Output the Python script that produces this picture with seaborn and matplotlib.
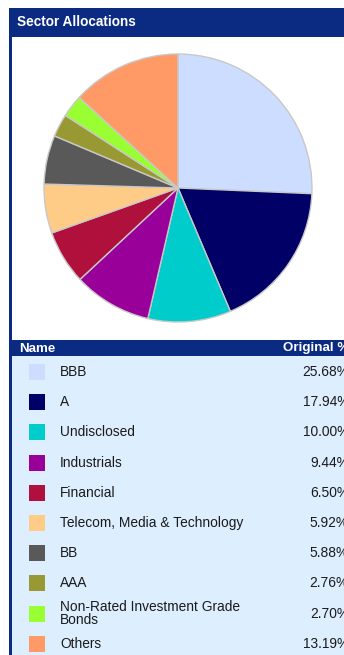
import matplotlib
matplotlib.use('Agg')
import matplotlib.pyplot as plt
from matplotlib.patches import Rectangle
import pandas as pd
import seaborn as sns

# data
names = ['BBB', 'A', 'Undisclosed', 'Industrials', 'Financial',
         'Telecom, Media & Technology', 'BB', 'AAA',
         'Non-Rated Investment Grade\nBonds', 'Others']
values = [25.68, 17.94, 10.00, 9.44, 6.50, 5.92, 5.88, 2.76, 2.70, 13.19]
value_labels = ['25.68%', '17.94%', '10.00%', '9.44%', '6.50%',
                '5.92%', '5.88%', '2.76%', '2.70%', '13.19%']
colors = ['#CCDDFF', '#000066', '#00CCCC', '#990099', '#B0103C',
          '#FFCC88', '#595959', '#999933', '#99FF33', '#FF9966']

sns.set_style('white')
plt.rcParams['font.family'] = ['Liberation Sans', 'DejaVu Sans']

W, H = 344, 655
NAVY = '#0B2B82'
fig = plt.figure(figsize=(W / 100, H / 100), dpi=100)

# background frame in pixel coordinates
bg = fig.add_axes([0, 0, 1, 1])
bg.set_xlim(0, W)
bg.set_ylim(H, 0)
bg.axis('off')
bg.add_patch(Rectangle((9, 7.5), W - 9, 29.5, color=NAVY, lw=0))
bg.add_patch(Rectangle((9, 7.5), 2.5, H, color=NAVY, lw=0))
bg.add_patch(Rectangle((9, 340), W - 9, 16, color=NAVY, lw=0))
bg.add_patch(Rectangle((11.5, 356), W - 11.5, H - 356, color='#DDEEFF', lw=0))
bg.text(17, 22.5, 'Sector Allocations', color='white', fontsize=9.8,
        fontweight='bold', va='center', ha='left')
bg.text(19, 348.5, 'Name', color='white', fontsize=9.6,
        fontweight='bold', va='center', ha='left')
bg.text(349, 348.5, 'Original %', color='white', fontsize=9.6,
        fontweight='bold', va='center', ha='right')

# pie
cx, cy, r = 178, 188, 134
pad = 1.02
side = 2 * r * pad
pax = fig.add_axes([(cx - side / 2) / W, (H - cy - side / 2) / H, side / W, side / H])
pax.pie(values, colors=colors, startangle=90, counterclock=False,
        wedgeprops=dict(edgecolor='#C8C8C8', linewidth=1.0))
pax.set_xlim(-pad, pad)
pax.set_ylim(-pad, pad)
pax.set_aspect('equal')
pax.axis('off')

# legend table
top_px, row0_px, step = 356, 372, 30.2
tax = fig.add_axes([11.5 / W, 0, (W - 11.5) / W, (H - top_px) / H])
tax.set_xlim(11.5, W)
tax.set_ylim((H - row0_px) / step, (top_px - row0_px) / step)
tax.axis('off')

df = pd.DataFrame({'name': names, 'value': values, 'label': value_labels,
                   'row': range(len(names)), 'x': 37})
sns.scatterplot(data=df, x='x', y='row', hue='name', palette=dict(zip(names, colors)),
                marker='s', s=133, linewidth=0, legend=False, ax=tax)
for _, row in df.iterrows():
    tax.text(60, row['row'], row['name'], fontsize=9.9, color='#1a1a1a',
             va='center', ha='left', linespacing=0.9)
    tax.text(349, row['row'], row['label'], fontsize=9.9, color='#1a1a1a',
             va='center', ha='right', clip_on=False)

fig.savefig('out.png', dpi=100)
